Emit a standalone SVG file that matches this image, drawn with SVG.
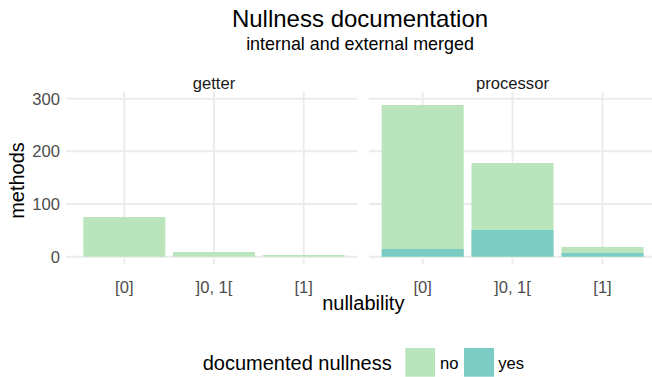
<svg xmlns="http://www.w3.org/2000/svg" width="652" height="377" viewBox="0 0 652 377">
  <style>
    text { font-family: "Liberation Sans", Arial, Helvetica, sans-serif; }
    .grid { stroke: #ebebeb; stroke-width: 1.9; fill: none; }
    .tick { stroke: #ebebeb; stroke-width: 1.9; }
    .no { fill: #bae4bc; }
    .yes { fill: #7bccc4; }
    .ylab { font-size: 16.6px; fill: #4d4d4d; text-anchor: end; }
    .xlab { font-size: 16.6px; fill: #4d4d4d; text-anchor: middle; }
    .strip { font-size: 16.6px; fill: #1a1a1a; text-anchor: middle; }
    .axtitle { font-size: 20px; fill: #000; text-anchor: middle; }
    .legtext { font-size: 16.6px; fill: #000; }
  </style>
  <rect width="652" height="377" fill="#ffffff"/>

  <!-- titles -->
  <g id="titles">
    <text x="360" y="26.5" font-size="24" text-anchor="middle" fill="#000">Nullness documentation</text>
    <text x="360" y="50" font-size="17.9" text-anchor="middle" fill="#000">internal and external merged</text>
  </g>

  <!-- y axis -->
  <g id="y-axis">
    <text class="ylab" x="60" y="105">300</text>
    <text class="ylab" x="60" y="157">200</text>
    <text class="ylab" x="60" y="210">100</text>
    <text class="ylab" x="60" y="262.7">0</text>
    <line class="tick" x1="66" y1="98.7" x2="70.5" y2="98.7"/>
    <line class="tick" x1="66" y1="151.3" x2="70.5" y2="151.3"/>
    <line class="tick" x1="66" y1="204" x2="70.5" y2="204"/>
    <line class="tick" x1="66" y1="256.7" x2="70.5" y2="256.7"/>
    <text class="axtitle" transform="translate(24 180.5) rotate(-90)">methods</text>
  </g>

  <!-- panel: getter -->
  <g id="panel-getter">
    <g class="grid">
      <path d="M70.5 98.7H357.5M70.5 151.3H357.5M70.5 204H357.5M70.5 256.7H357.5"/>
      <path d="M124.3 92V256.7M214 92V256.7M303.7 92V256.7"/>
    </g>
    <text class="strip" x="214" y="89">getter</text>
    <rect class="no" x="83.3" y="217" width="82" height="39.7"/>
    <rect class="no" x="173" y="252" width="82" height="4.7"/>
    <rect class="no" x="262.7" y="255" width="82" height="1.7"/>
    <line class="tick" x1="124.3" y1="258.5" x2="124.3" y2="264"/>
    <line class="tick" x1="214" y1="258.5" x2="214" y2="264"/>
    <line class="tick" x1="303.7" y1="258.5" x2="303.7" y2="264"/>
    <text class="xlab" x="124.3" y="292.5">[0]</text>
    <text class="xlab" x="214" y="292.5">]0, 1[</text>
    <text class="xlab" x="303.7" y="292.5">[1]</text>
  </g>

  <!-- panel: processor -->
  <g id="panel-processor">
    <g class="grid">
      <path d="M369 98.7H656M369 151.3H656M369 204H656M369 256.7H656"/>
      <path d="M422.7 92V256.7M512.5 92V256.7M602.5 92V256.7"/>
    </g>
    <text class="strip" x="512.5" y="89">processor</text>
    <rect class="no" x="381.7" y="105" width="82" height="151.7"/>
    <rect class="yes" x="381.7" y="249" width="82" height="7.7"/>
    <rect class="no" x="471.5" y="163" width="82" height="93.7"/>
    <rect class="yes" x="471.5" y="230" width="82" height="26.7"/>
    <rect class="no" x="561.5" y="247" width="82" height="9.7"/>
    <rect class="yes" x="561.5" y="253" width="82" height="3.7"/>
    <line class="tick" x1="422.7" y1="258.5" x2="422.7" y2="264"/>
    <line class="tick" x1="512.5" y1="258.5" x2="512.5" y2="264"/>
    <line class="tick" x1="602.5" y1="258.5" x2="602.5" y2="264"/>
    <text class="xlab" x="422.7" y="292.5">[0]</text>
    <text class="xlab" x="512.5" y="292.5">]0, 1[</text>
    <text class="xlab" x="602.5" y="292.5">[1]</text>
  </g>

  <!-- x axis title -->
  <text class="axtitle" x="363.3" y="309.5">nullability</text>

  <!-- legend -->
  <g id="legend">
    <text x="202.7" y="370" font-size="20" fill="#000">documented nullness</text>
    <rect class="no" x="405.3" y="348" width="29.7" height="28.7"/>
    <text class="legtext" x="440" y="369">no</text>
    <rect class="yes" x="464" y="348" width="30" height="28.7"/>
    <text class="legtext" x="498.3" y="369">yes</text>
  </g>
</svg>
